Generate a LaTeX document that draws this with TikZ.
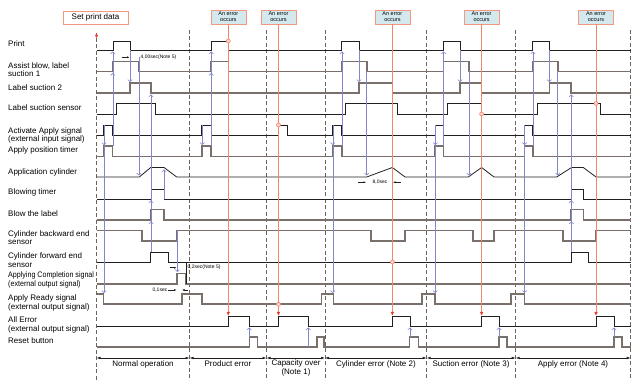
\documentclass[tikz,border=0pt]{standalone}
\usepackage{fontspec}
\setmainfont{Liberation Sans}
\usetikzlibrary{arrows.meta}
\definecolor{wave}{HTML}{7A706B}
\definecolor{ink}{HTML}{231F20}
\definecolor{causeblue}{HTML}{8486CC}
\definecolor{faultorange}{HTML}{F2866A}
\definecolor{faultred}{HTML}{E53A2C}
\definecolor{boxfill}{HTML}{D3E9EE}
\definecolor{divcol}{HTML}{6E625C}

\begin{document}
\begin{tikzpicture}[
        x=1pt, y=-1pt,
        font=\fontsize{8}{8.4}\selectfont,
        sigtext/.style={anchor=west, align=left, inner sep=0pt},
        wavethin/.style={draw=ink, line width=0.8pt},
        wavethick/.style={draw=wave, line width=1.6pt},
        cause/.style={draw=causeblue, line width=0.6pt, -{Straight Barb[length=2pt,width=4.4pt]}},
        fault/.style={draw=faultorange, line width=0.8pt},
        hit/.style={fault, -{Triangle[length=3.5pt,width=3pt,color=faultred]}},
        probe/.style={circle, draw=faultorange, fill=faultorange!35, minimum size=4pt, inner sep=0pt, line width=0.6pt},
        errbox/.style={rectangle, draw=faultorange!85, fill=boxfill, minimum width=35pt, minimum height=14pt, inner sep=0.5pt, align=center, font=\fontsize{5.5}{6.2}\selectfont},
        divider/.style={draw=divcol, line width=0.7pt, dash pattern=on 4pt off 2.5pt},
        phase/.style={{Latex[length=4pt,width=2.6pt]}-{Latex[length=4pt,width=2.6pt]}, draw=ink, line width=0.6pt},
        dim/.style={-{Latex[length=2.5pt,width=2pt]}, draw=ink, line width=0.4pt},
        note/.style={inner sep=0pt, font=\fontsize{5}{6}\selectfont}
    ]

    \useasboundingbox (0,0) rectangle (640,387);

    \node (setdata) [rectangle, draw=faultorange!85, fill=white, minimum width=65pt, minimum height=13.5pt, inner sep=1pt] at (95.5,17.5) {Set print data};
    \node (err1) [errbox] at (228.3,17) {An error\\occurs};
    \node (err2) [errbox] at (278.5,17) {An error\\occurs};
    \node (err3) [errbox] at (392.4,17) {An error\\occurs};
    \node (err4) [errbox] at (481.6,17) {An error\\occurs};
    \node (err5) [errbox] at (596,17) {An error\\occurs};

    \node (print) [sigtext] at (8,44) {Print};
    \node (assist) [sigtext] at (8,69.5) {Assist blow, label\\suction 1};
    \node (suction) [sigtext] at (8,87.5) {Label suction 2};
    \node (sensor) [sigtext] at (8,108) {Label suction sensor};
    \node (activate) [sigtext] at (8,135.3) {Activate Apply signal\\(external input signal)};
    \node (timer) [sigtext] at (8,150) {Apply position timer};
    \node (cylinder) [sigtext] at (8,172.3) {Application cylinder};
    \node (blowtimer) [sigtext] at (8,192.7) {Blowing timer};
    \node (blow) [sigtext] at (8,213.7) {Blow the label};
    \node (backend) [sigtext] at (8,237.5) {Cylinder backward end\\sensor};
    \node (foreend) [sigtext] at (8,260) {Cylinder forward end\\sensor};
    \node (complete) [sigtext, transform shape, xscale=0.89] at (8,280) {Applying Completion signal\\(external output signal)};
    \node (ready) [sigtext] at (8,303) {Apply Ready signal\\(external output signal)};
    \node (allerr) [sigtext] at (8,325) {All Error\\(external output signal)};
    \node (reset) [sigtext] at (8,340.7) {Reset button};

    \draw [divider] (96.5,38) -- (96.5,380);
    \draw [divider] (189.5,30) -- (189.5,380);
    \draw [divider] (266.5,30) -- (266.5,380);
    \draw [divider] (325,30) -- (325,380);
    \draw [divider] (426.7,30) -- (426.7,380);
    \draw [divider] (515.7,30) -- (515.7,380);
    \draw [divider] (630.7,30) -- (630.7,380);
    \draw [-{Triangle[length=3pt,width=3pt]}, draw=faultred, line width=0.6pt] (96.5,33) -- (96.5,38);

    \draw [wavethin] (96.5,50) -| (113,41) -| (130,50) -| (211,41) -| (228.3,50) -| (341.7,41) -| (359,50) -| (443.3,41) -| (460,50) -| (532.7,41) -| (549.3,50) -- (630.7,50);
    \draw [wavethick] (96.5,71.5) -| (113,61.5) -| (139,71.5) -| (211,61.5) -| (228.3,71.5) -| (341.7,61.5) -| (366.7,71.5) -| (443.3,61.5) -| (469,71.5) -| (532.7,61.5) -| (557.7,71.5) -- (630.7,71.5);
    \draw [wavethick] (96.5,93) -| (130,83) -| (151,93) -| (359,83) -| (392.4,93) -| (460,83) -| (481.6,93) -| (549.3,83) -| (571,93) -- (630.7,93);
    \draw [wavethin] (96.5,114) -| (116.7,103.5) -| (155.7,114) -| (345.7,103.5) -| (397.3,114) -| (447.7,103.5) -| (481.6,114) -| (537.3,103.5) -| (600.7,114) -- (630.7,114);
    \draw [wavethin] (96.5,135) -| (103.5,125) -| (112.5,135) -| (201.8,125) -| (211,135) -| (278.5,125) -| (287.3,135) -| (332.5,125) -| (341.7,135) -| (435,125) -| (443.3,135) -| (524.3,125) -| (532.7,135) -- (630.7,135);
    \draw [wavethick] (96.5,156.5) -| (103.5,146) -| (112.5,156.5) -| (201.8,146) -| (211,156.5) -| (332.5,146) -| (341.7,156.5) -| (435,146) -| (443.3,156.5) -| (524.3,146) -| (532.7,156.5) -- (630.7,156.5);
    \draw [wavethin] (96.5,177) -- (139.3,177) -- (150.7,167.5) -- (164,167.5) -- (176.7,177) -- (366.7,177) -- (392.4,167.5) -- (405,177) -- (468.3,177) -- (481.6,167.5) -- (494,177) -- (556.7,177) -- (571.5,167.5) -- (583.3,167.5) -- (596,177) -- (630.7,177);
    \draw [wavethin] (96.5,199) -| (151,189) -| (164,199) -| (571,189) -| (583.3,199) -- (630.7,199);
    \draw [wavethick] (96.5,220) -| (151,209.5) -| (164,220) -| (571,209.5) -| (583.3,220) -- (630.7,220);
    \draw [wavethick] (96.5,230.5) -| (141.7,241) -| (176.7,230.5) -| (370.7,241) -| (405,230.5) -| (472.7,241) -| (494,230.5) -| (562.7,241) -| (596,230.5) -- (630.7,230.5);
    \draw [wavethin] (96.5,262) -| (150.5,252) -| (168.3,262) -| (571.5,252) -| (588.3,262) -- (630.7,262);
    \draw [wavethick] (96.5,284) -| (176.7,273.5) -| (185.7,284) -- (630.7,284);
    \draw [wavethick] (96.5,294) -| (103.5,304.3) -| (181.7,294) -| (201.8,304.3) -| (321.5,294) -| (333.3,304.3) -| (422,294) -| (435,304.3) -| (510.7,294) -| (524.3,304.3) -- (630.7,304.3);
    \draw [wavethin] (96.5,326) -| (228.3,316) -| (249.3,326) -| (278.5,316) -| (308.3,326) -| (392.4,316) -| (410,326) -| (481.6,316) -| (499,326) -| (596,316) -| (614,326) -- (630.7,326);
    \draw [wavethick] (96.5,347) -| (249.3,337) -| (257.3,347) -| (316.7,337) -| (324,347) -| (409.3,337) -| (418.3,347) -| (499,337) -| (506.7,347) -| (614,337) -| (621.7,347) -- (630.7,347);

    \draw [cause] (104,125) -- (104,145);
    \draw [cause] (104,125) -- (104,293);
    \draw [cause] (112.8,146) -- (112.8,51.5);
    \draw [cause] (112.8,146) -- (112.8,73);
    \draw [cause] (130,50) -- (130,82);
    \draw [cause] (139,57) -- (139,175.5);
    \draw [cause] (151,252) -- (151,94.5);
    \draw [cause] (151,252) -- (151,200.5);
    \draw [cause] (151,252) -- (151,221.5);
    \draw [cause] (164,199) -- (164,169.5);
    \draw [cause] (177.3,230.5) -- (177.3,272);
    \draw [cause] (202.2,125) -- (202.2,145);
    \draw [cause] (211.3,146) -- (211.3,51.5);
    \draw [cause] (211.3,146) -- (211.3,73);
    \draw [cause] (332.8,125) -- (332.8,145);
    \draw [cause] (332.8,125) -- (332.8,293);
    \draw [cause] (342,146) -- (342,51.5);
    \draw [cause] (359,50) -- (359,82);
    \draw [cause] (366.7,71.5) -- (366.7,175.5);
    \draw [cause] (435.3,125) -- (435.3,145);
    \draw [cause] (435.3,125) -- (435.3,293);
    \draw [cause] (443.6,146) -- (443.6,51.5);
    \draw [cause] (460,50) -- (460,82);
    \draw [cause] (469,71.5) -- (469,175.5);
    \draw [cause] (524.6,125) -- (524.6,145);
    \draw [cause] (524.6,125) -- (524.6,293);
    \draw [cause] (533,146) -- (533,51.5);
    \draw [cause] (549.3,50) -- (549.3,82);
    \draw [cause] (557.7,71.5) -- (557.7,175.5);
    \draw [cause] (571.3,252) -- (571.3,94.5);
    \draw [cause] (571.3,252) -- (571.3,200.5);
    \draw [cause] (571.3,252) -- (571.3,221.5);
    \draw [cause] (249.3,337) -- (249.3,327.5);
    \draw [cause] (308.3,347) -- (308.3,327.5);
    \draw [cause] (410,337) -- (410,327.5);
    \draw [cause] (499,337) -- (499,327.5);
    \draw [cause] (614,337) -- (614,327.5);

    \draw [hit] (err1.south) -- (228.3,315.5);
    \draw [hit] (err2.south) -- (278.5,315.5);
    \draw [hit] (err3.south) -- (392.4,315.5);
    \draw [hit] (err4.south) -- (481.6,315.5);
    \draw [hit] (err5.south) -- (596,315.5);
    \node (p1) [probe] at (228.3,41) {};
    \node (p2) [probe] at (278.5,125) {};
    \node (p3) [probe] at (278.5,304.3) {};
    \node (p4) [probe] at (392.4,262) {};
    \node (p5) [probe] at (481.6,114) {};
    \node (p6) [probe] at (596,103.5) {};

    \draw [dim] (121.5,57.3) -- (129.5,57.3);
    \node (t400) [note, anchor=west] at (140.5,57.5) {4,00sec(Note 5)};
    \draw [dim] (169.5,267.7) -- (176.5,267.7);
    \draw [draw=ink, line width=0.4pt] (186,263) -- (186,284);
    \node (t020) [note, anchor=west] at (187.5,267.7) {0,2sec(Note 5)};
    \node (t010) [note, anchor=east] at (167.5,290) {0,1sec};
    \draw [dim] (167.5,290) -- (176.5,290);
    \draw [dim] (188,290) -- (182,290);
    \draw [dim] (358,182.3) -- (366,182.3);
    \node (t800) [note] at (380,182.3) {8,0sec};
    \draw [dim] (401,182.3) -- (393,182.3);

    \draw [phase] (96.5,358) -- (189.5,358);
    \draw [phase] (189.5,358) -- (266.5,358);
    \draw [phase] (266.5,358) -- (325,358);
    \draw [phase] (325,358) -- (426.7,358);
    \draw [phase] (426.7,358) -- (515.7,358);
    \draw [phase] (515.7,358) -- (630.7,358);
    \node (normal) at (143,364) {Normal operation};
    \node (product) at (228,364) {Product error};
    \node (capacity) [align=center] at (296,368) {Capacity over\\(Note 1)};
    \node (cylerr) at (376,364) {Cylinder error (Note 2)};
    \node (sucerr) at (471,364) {Suction error (Note 3)};
    \node (applyerr) at (573,364) {Apply error (Note 4)};

\end{tikzpicture}
\end{document}
